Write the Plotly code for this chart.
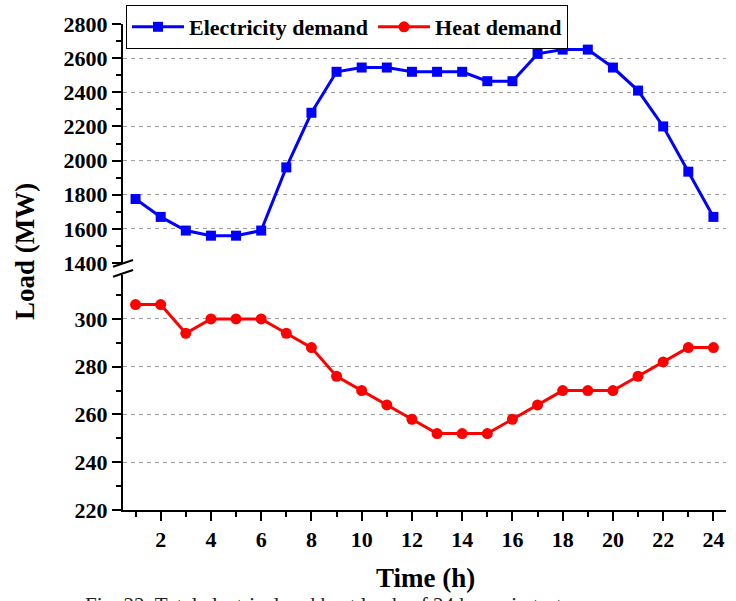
import plotly.graph_objects as go

hours = list(range(1, 25))
electricity = [1775, 1670, 1590, 1560, 1560, 1590, 1960, 2280, 2520, 2545, 2545, 2520,
               2520, 2520, 2465, 2465, 2625, 2650, 2650, 2545, 2410, 2200, 1935, 1670]
heat = [306, 306, 294, 300, 300, 300, 294, 288, 276, 270, 264, 258,
        252, 252, 252, 258, 264, 270, 270, 270, 276, 282, 288, 288]

x_ticks = list(range(2, 25, 2))
x_minor = list(range(1, 25, 2))
elec_ticks = list(range(1400, 2801, 200))
elec_grid = list(range(1400, 2601, 200))
heat_ticks = list(range(220, 301, 20))

FONT = "Liberation Serif"
W, H = 736, 601
ML, MR, MT, MB = 123, 10, 24, 91
PW, PH = W - ML - MR, H - MT - MB

def px_x(px):
    return (px - ML) / PW

def px_y(py):
    return (H - MB - py) / PH

fig = go.Figure()
# invisible helper trace so the grid-only overlay axis is drawn
fig.add_trace(go.Scatter(
    x=hours, y=electricity, mode="lines", line=dict(width=0, color="rgba(0,0,0,0)"),
    showlegend=False, hoverinfo="skip", xaxis="x", yaxis="y3"))
fig.add_trace(go.Scatter(
    x=hours, y=electricity, name="Electricity demand", mode="lines+markers",
    line=dict(color="#0000ff", width=3),
    marker=dict(symbol="square", size=10, color="#0000ff"),
    xaxis="x", yaxis="y"))
fig.add_trace(go.Scatter(
    x=hours, y=heat, name="Heat demand", mode="lines+markers",
    line=dict(color="#ff0000", width=3),
    marker=dict(symbol="circle", size=11, color="#ff0000"),
    xaxis="x", yaxis="y2"))

tickfont = dict(family=FONT, size=22, color="black", weight="bold")
axis_common = dict(showline=True, linecolor="black", linewidth=2, ticks="outside",
                   ticklen=9, tickwidth=2, tickcolor="black", tickfont=tickfont,
                   zeroline=False)

top_bottom = px_y(263)
bot_top = px_y(275)

fig.update_layout(
    width=W, height=H,
    margin=dict(l=ML, r=MR, t=MT, b=MB, pad=0, autoexpand=False),
    plot_bgcolor="white", paper_bgcolor="white",
    showlegend=True,
    legend=dict(orientation="h", x=px_x(126), y=px_y(27), xanchor="left", yanchor="middle",
                bgcolor="white", bordercolor="black", borderwidth=1,
                font=dict(family=FONT, size=22, color="black", weight="bold"),
                itemwidth=52, tracegroupgap=0),
    xaxis=dict(domain=[0, 1], range=[0.5, 24.5], anchor="y2", tickvals=x_ticks,
               showgrid=False,
               minor=dict(tickvals=x_minor, ticks="outside", ticklen=5, tickwidth=2,
                          tickcolor="black", showgrid=False),
               **axis_common),
    yaxis=dict(domain=[top_bottom, 1], range=[1400, 2800], anchor="x",
               tickvals=elec_ticks, showgrid=False,
               minor=dict(dtick=100, tick0=1400, ticks="outside", ticklen=5, tickwidth=2,
                          tickcolor="black", showgrid=False),
               **axis_common),
    yaxis3=dict(overlaying="y", range=[1400, 2800], anchor="x", tickvals=elec_grid,
                showticklabels=False, ticks="", showline=False, zeroline=False,
                showgrid=True, gridcolor="#a0a0a0", gridwidth=1, griddash="4px,4px"),
    yaxis2=dict(domain=[0, bot_top], range=[220, 318.4], anchor="x",
                tickvals=heat_ticks, showgrid=True, gridcolor="#a0a0a0", gridwidth=1,
                griddash="4px,4px",
                minor=dict(dtick=10, tick0=220, ticks="outside", ticklen=5, tickwidth=2,
                           tickcolor="black", showgrid=False),
                **axis_common),
)

# axis break marks
for y0, y1 in [(266.7, 260.0), (276.7, 270.0)]:
    fig.add_shape(type="line", xref="paper", yref="paper",
                  x0=px_x(113), y0=px_y(y0), x1=px_x(133), y1=px_y(y1),
                  line=dict(color="black", width=2))

fig.add_annotation(text="Load (MW)", xref="paper", yref="paper",
                   x=px_x(25), y=px_y(252), textangle=-90, showarrow=False,
                   xanchor="center", yanchor="middle",
                   font=dict(family=FONT, size=27, color="black", weight="bold"))
fig.add_annotation(text="Time (h)", xref="paper", yref="paper",
                   x=px_x(425), y=px_y(578), showarrow=False,
                   xanchor="center", yanchor="middle",
                   font=dict(family=FONT, size=27, color="black", weight="bold"))
fig.add_annotation(text="Fig. 22. Total electrical and heat loads of 24 hours in test.",
                   xref="paper", yref="paper", x=px_x(83), y=px_y(591),
                   showarrow=False, xanchor="left", yanchor="top",
                   font=dict(family=FONT, size=21, color="#222222"))

fig.write_html("out.html", config={"displayModeBar": False},
               post_script="document.body.style.margin='0';document.body.style.padding='0';")
